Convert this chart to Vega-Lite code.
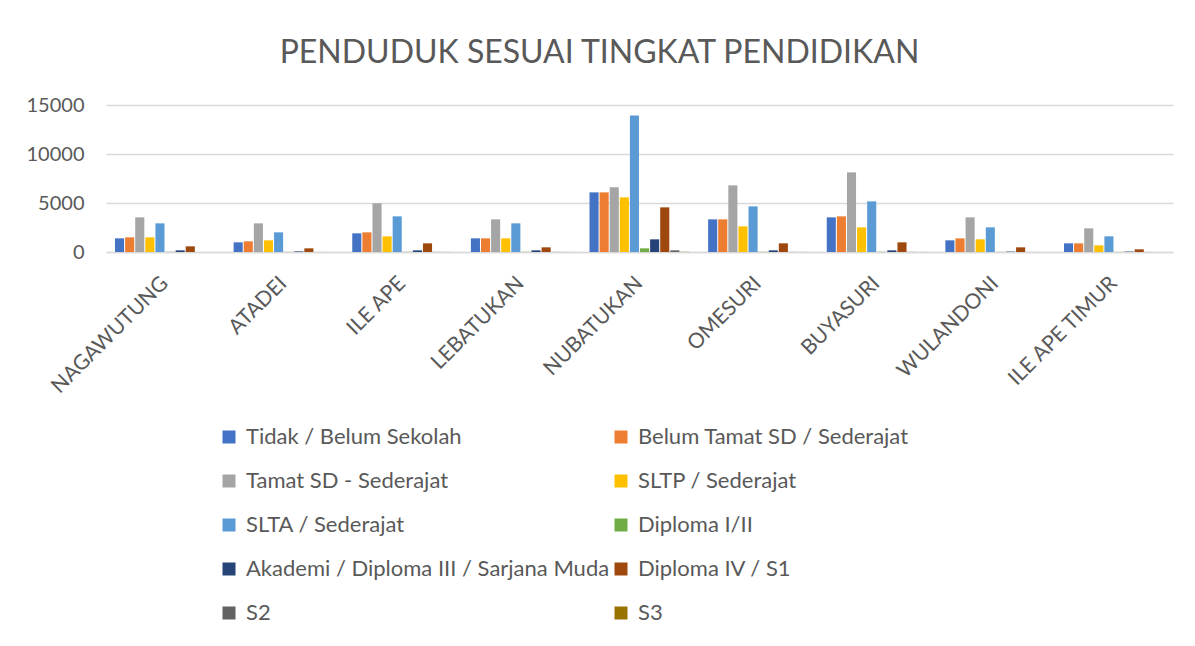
{
  "$schema": "https://vega.github.io/schema/vega-lite/v6.json",
  "width": 1067,
  "height": 147,
  "autosize": {"type": "none"},
  "padding": {"left": 106, "top": 105, "right": 22, "bottom": 394},
  "background": "white",
  "title": {
    "text": "PENDUDUK SESUAI TINGKAT PENDIDIKAN",
    "fontSize": 32,
    "font": "Lato",
    "fontWeight": "normal",
    "color": "#595959",
    "anchor": "middle",
    "dx": -40,
    "offset": 25
  },
  "data": {
    "values": [
      {"desa": "NAGAWUTUNG", "tingkat": "Tidak / Belum Sekolah", "jumlah": 1394},
      {"desa": "NAGAWUTUNG", "tingkat": "Belum Tamat SD / Sederajat", "jumlah": 1496},
      {"desa": "NAGAWUTUNG", "tingkat": "Tamat SD - Sederajat", "jumlah": 3536},
      {"desa": "NAGAWUTUNG", "tingkat": "SLTP / Sederajat", "jumlah": 1496},
      {"desa": "NAGAWUTUNG", "tingkat": "SLTA / Sederajat", "jumlah": 2924},
      {"desa": "NAGAWUTUNG", "tingkat": "Diploma I/II", "jumlah": 20},
      {"desa": "NAGAWUTUNG", "tingkat": "Akademi / Diploma III / Sarjana Muda", "jumlah": 170},
      {"desa": "NAGAWUTUNG", "tingkat": "Diploma IV / S1", "jumlah": 578},
      {"desa": "NAGAWUTUNG", "tingkat": "S2", "jumlah": 10},
      {"desa": "NAGAWUTUNG", "tingkat": "S3", "jumlah": 5},
      {"desa": "ATADEI", "tingkat": "Tidak / Belum Sekolah", "jumlah": 986},
      {"desa": "ATADEI", "tingkat": "Belum Tamat SD / Sederajat", "jumlah": 1088},
      {"desa": "ATADEI", "tingkat": "Tamat SD - Sederajat", "jumlah": 2924},
      {"desa": "ATADEI", "tingkat": "SLTP / Sederajat", "jumlah": 1190},
      {"desa": "ATADEI", "tingkat": "SLTA / Sederajat", "jumlah": 2006},
      {"desa": "ATADEI", "tingkat": "Diploma I/II", "jumlah": 10},
      {"desa": "ATADEI", "tingkat": "Akademi / Diploma III / Sarjana Muda", "jumlah": 60},
      {"desa": "ATADEI", "tingkat": "Diploma IV / S1", "jumlah": 374},
      {"desa": "ATADEI", "tingkat": "S2", "jumlah": 5},
      {"desa": "ATADEI", "tingkat": "S3", "jumlah": 2},
      {"desa": "ILE APE", "tingkat": "Tidak / Belum Sekolah", "jumlah": 1904},
      {"desa": "ILE APE", "tingkat": "Belum Tamat SD / Sederajat", "jumlah": 2006},
      {"desa": "ILE APE", "tingkat": "Tamat SD - Sederajat", "jumlah": 4964},
      {"desa": "ILE APE", "tingkat": "SLTP / Sederajat", "jumlah": 1598},
      {"desa": "ILE APE", "tingkat": "SLTA / Sederajat", "jumlah": 3638},
      {"desa": "ILE APE", "tingkat": "Diploma I/II", "jumlah": 20},
      {"desa": "ILE APE", "tingkat": "Akademi / Diploma III / Sarjana Muda", "jumlah": 170},
      {"desa": "ILE APE", "tingkat": "Diploma IV / S1", "jumlah": 884},
      {"desa": "ILE APE", "tingkat": "S2", "jumlah": 10},
      {"desa": "ILE APE", "tingkat": "S3", "jumlah": 5},
      {"desa": "LEBATUKAN", "tingkat": "Tidak / Belum Sekolah", "jumlah": 1394},
      {"desa": "LEBATUKAN", "tingkat": "Belum Tamat SD / Sederajat", "jumlah": 1394},
      {"desa": "LEBATUKAN", "tingkat": "Tamat SD - Sederajat", "jumlah": 3332},
      {"desa": "LEBATUKAN", "tingkat": "SLTP / Sederajat", "jumlah": 1394},
      {"desa": "LEBATUKAN", "tingkat": "SLTA / Sederajat", "jumlah": 2924},
      {"desa": "LEBATUKAN", "tingkat": "Diploma I/II", "jumlah": 20},
      {"desa": "LEBATUKAN", "tingkat": "Akademi / Diploma III / Sarjana Muda", "jumlah": 170},
      {"desa": "LEBATUKAN", "tingkat": "Diploma IV / S1", "jumlah": 476},
      {"desa": "LEBATUKAN", "tingkat": "S2", "jumlah": 10},
      {"desa": "LEBATUKAN", "tingkat": "S3", "jumlah": 5},
      {"desa": "NUBATUKAN", "tingkat": "Tidak / Belum Sekolah", "jumlah": 6086},
      {"desa": "NUBATUKAN", "tingkat": "Belum Tamat SD / Sederajat", "jumlah": 6086},
      {"desa": "NUBATUKAN", "tingkat": "Tamat SD - Sederajat", "jumlah": 6596},
      {"desa": "NUBATUKAN", "tingkat": "SLTP / Sederajat", "jumlah": 5576},
      {"desa": "NUBATUKAN", "tingkat": "SLTA / Sederajat", "jumlah": 13940},
      {"desa": "NUBATUKAN", "tingkat": "Diploma I/II", "jumlah": 374},
      {"desa": "NUBATUKAN", "tingkat": "Akademi / Diploma III / Sarjana Muda", "jumlah": 1292},
      {"desa": "NUBATUKAN", "tingkat": "Diploma IV / S1", "jumlah": 4556},
      {"desa": "NUBATUKAN", "tingkat": "S2", "jumlah": 170},
      {"desa": "NUBATUKAN", "tingkat": "S3", "jumlah": 20},
      {"desa": "OMESURI", "tingkat": "Tidak / Belum Sekolah", "jumlah": 3332},
      {"desa": "OMESURI", "tingkat": "Belum Tamat SD / Sederajat", "jumlah": 3332},
      {"desa": "OMESURI", "tingkat": "Tamat SD - Sederajat", "jumlah": 6800},
      {"desa": "OMESURI", "tingkat": "SLTP / Sederajat", "jumlah": 2618},
      {"desa": "OMESURI", "tingkat": "SLTA / Sederajat", "jumlah": 4658},
      {"desa": "OMESURI", "tingkat": "Diploma I/II", "jumlah": 20},
      {"desa": "OMESURI", "tingkat": "Akademi / Diploma III / Sarjana Muda", "jumlah": 170},
      {"desa": "OMESURI", "tingkat": "Diploma IV / S1", "jumlah": 884},
      {"desa": "OMESURI", "tingkat": "S2", "jumlah": 10},
      {"desa": "OMESURI", "tingkat": "S3", "jumlah": 5},
      {"desa": "BUYASURI", "tingkat": "Tidak / Belum Sekolah", "jumlah": 3536},
      {"desa": "BUYASURI", "tingkat": "Belum Tamat SD / Sederajat", "jumlah": 3638},
      {"desa": "BUYASURI", "tingkat": "Tamat SD - Sederajat", "jumlah": 8126},
      {"desa": "BUYASURI", "tingkat": "SLTP / Sederajat", "jumlah": 2516},
      {"desa": "BUYASURI", "tingkat": "SLTA / Sederajat", "jumlah": 5168},
      {"desa": "BUYASURI", "tingkat": "Diploma I/II", "jumlah": 20},
      {"desa": "BUYASURI", "tingkat": "Akademi / Diploma III / Sarjana Muda", "jumlah": 170},
      {"desa": "BUYASURI", "tingkat": "Diploma IV / S1", "jumlah": 986},
      {"desa": "BUYASURI", "tingkat": "S2", "jumlah": 10},
      {"desa": "BUYASURI", "tingkat": "S3", "jumlah": 5},
      {"desa": "WULANDONI", "tingkat": "Tidak / Belum Sekolah", "jumlah": 1190},
      {"desa": "WULANDONI", "tingkat": "Belum Tamat SD / Sederajat", "jumlah": 1394},
      {"desa": "WULANDONI", "tingkat": "Tamat SD - Sederajat", "jumlah": 3536},
      {"desa": "WULANDONI", "tingkat": "SLTP / Sederajat", "jumlah": 1292},
      {"desa": "WULANDONI", "tingkat": "SLTA / Sederajat", "jumlah": 2516},
      {"desa": "WULANDONI", "tingkat": "Diploma I/II", "jumlah": 10},
      {"desa": "WULANDONI", "tingkat": "Akademi / Diploma III / Sarjana Muda", "jumlah": 40},
      {"desa": "WULANDONI", "tingkat": "Diploma IV / S1", "jumlah": 476},
      {"desa": "WULANDONI", "tingkat": "S2", "jumlah": 5},
      {"desa": "WULANDONI", "tingkat": "S3", "jumlah": 2},
      {"desa": "ILE APE TIMUR", "tingkat": "Tidak / Belum Sekolah", "jumlah": 884},
      {"desa": "ILE APE TIMUR", "tingkat": "Belum Tamat SD / Sederajat", "jumlah": 884},
      {"desa": "ILE APE TIMUR", "tingkat": "Tamat SD - Sederajat", "jumlah": 2414},
      {"desa": "ILE APE TIMUR", "tingkat": "SLTP / Sederajat", "jumlah": 680},
      {"desa": "ILE APE TIMUR", "tingkat": "SLTA / Sederajat", "jumlah": 1598},
      {"desa": "ILE APE TIMUR", "tingkat": "Diploma I/II", "jumlah": 10},
      {"desa": "ILE APE TIMUR", "tingkat": "Akademi / Diploma III / Sarjana Muda", "jumlah": 40},
      {"desa": "ILE APE TIMUR", "tingkat": "Diploma IV / S1", "jumlah": 272},
      {"desa": "ILE APE TIMUR", "tingkat": "S2", "jumlah": 5},
      {"desa": "ILE APE TIMUR", "tingkat": "S3", "jumlah": 2}
    ]
  },
  "mark": {"type": "bar"},
  "encoding": {
    "x": {
      "field": "desa",
      "type": "nominal",
      "sort": null,
      "scale": {"paddingInner": 0.157, "paddingOuter": 0.076},
      "axis": {
        "title": null,
        "labelAngle": -45,
        "labelAlign": "right",
        "labelBaseline": "middle",
        "labelFontSize": 21,
        "labelFont": "Lato",
        "labelColor": "#595959",
        "labelPadding": 28,
        "ticks": false,
        "domain": true,
        "domainColor": "#d9d9d9",
        "domainWidth": 1.5,
        "grid": false
      }
    },
    "xOffset": {
      "field": "tingkat",
      "type": "nominal",
      "sort": ["Tidak / Belum Sekolah", "Belum Tamat SD / Sederajat", "Tamat SD - Sederajat", "SLTP / Sederajat", "SLTA / Sederajat", "Diploma I/II", "Akademi / Diploma III / Sarjana Muda", "Diploma IV / S1", "S2", "S3"],
      "scale": {"paddingInner": 0.1}
    },
    "y": {
      "field": "jumlah",
      "type": "quantitative",
      "scale": {"domain": [0, 15000], "nice": false},
      "axis": {
        "title": null,
        "values": [0, 5000, 10000, 15000],
        "format": "d",
        "labelFontSize": 20,
        "labelFont": "Lato",
        "labelColor": "#595959",
        "labelPadding": 22,
        "ticks": false,
        "domain": false,
        "grid": true,
        "gridColor": "#d9d9d9",
        "gridWidth": 1.5
      }
    },
    "color": {
      "field": "tingkat",
      "type": "nominal",
      "scale": {
        "domain": ["Tidak / Belum Sekolah", "Tamat SD - Sederajat", "SLTA / Sederajat", "Akademi / Diploma III / Sarjana Muda", "S2", "Belum Tamat SD / Sederajat", "SLTP / Sederajat", "Diploma I/II", "Diploma IV / S1", "S3"],
        "range": ["#4472C4", "#A5A5A5", "#5B9BD5", "#264478", "#636363", "#ED7D31", "#FFC000", "#70AD47", "#9E480E", "#997300"]
      },
      "legend": {
        "title": null,
        "orient": "none",
        "legendX": 112,
        "legendY": 321,
        "columns": 2,
        "columnPadding": -3,
        "rowPadding": 22,
        "padding": 0,
        "symbolType": "square",
        "symbolSize": 169,
        "symbolStrokeWidth": 0,
        "symbolOpacity": 1,
        "labelFontSize": 22,
        "labelFont": "Lato",
        "labelColor": "#595959",
        "labelOffset": 6,
        "labelLimit": 500
      }
    }
  },
  "config": {
    "font": "Lato",
    "view": {"stroke": null}
  }
}
